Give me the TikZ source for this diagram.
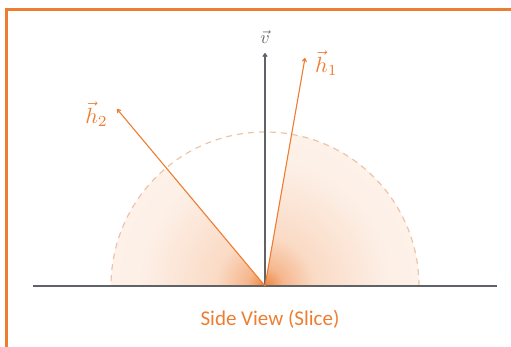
\documentclass[tikz,border=0pt]{standalone}
\usepackage{amsmath}
\usepackage{graphicx}
\usepackage{fontspec}
\usetikzlibrary{arrows.meta}
\newfontfamily\slicefont{Carlito}
\definecolor{sliceorange}{HTML}{ED7D31}
\definecolor{sliceink}{HTML}{5F6368}
\definecolor{slicedash}{HTML}{EDC4A8}
\newcommand{\biglab}[2]{\scalebox{#1}{$#2$}}
\pgfdeclareradialshading{lobeglow}{\pgfpoint{0bp}{0bp}}{%
  color(0bp)=(sliceorange!95); color(3bp)=(sliceorange!55);
  color(8bp)=(sliceorange!28); color(20bp)=(sliceorange!12);
  color(50bp)=(sliceorange!5)}

\begin{document}
\begin{tikzpicture}[
  x=1pt,
  y=1pt,
  frame/.style={sliceorange, line width=3pt},
  ground/.style={sliceink, line width=1.4pt},
  vecv/.style={sliceink, line width=1.2pt, -{To[length=4pt,width=5pt]}},
  vech/.style={sliceorange, line width=1.1pt, -{To[length=4pt,width=5pt]}},
  lobe/.style={slicedash, line width=1.2pt, dash pattern=on 6pt off 5pt},
  veclabel/.style={sliceorange, inner sep=2pt}
]
  \useasboundingbox (-265,-61) rectangle (246,286);

  % ---- frame, right and bottom edges run off the page -------------------
  \draw[frame] (-258.5,-80) -- (-258.5,276.5) -- (270,276.5);

  % ---- points ------------------------------------------------------------
  \coordinate (o) at (0,0);
  \coordinate (vtip) at (0,233);
  \coordinate (h1tip) at (40,228);
  \coordinate (h2tip) at (-148,177);
  \coordinate (gleft) at (-232,0);
  \coordinate (gright) at (232,0);

  % ---- shaded lobes, blank between the two half vectors ------------------
  \begin{scope}
    \clip (o) -- (154,0) arc[start angle=0, end angle=80.05, radius=154]
      -- cycle;
    \shade[shading=lobeglow] (o) circle (154);
  \end{scope}
  \begin{scope}
    \clip (o) -- (-154,0) arc[start angle=180, end angle=129.9, radius=154]
      -- cycle;
    \shade[shading=lobeglow] (o) circle (154);
  \end{scope}

  % ---- dashed half circle ------------------------------------------------
  \draw[lobe] (154,0) arc[start angle=0, end angle=180, radius=154];

  % ---- ground line and vectors -------------------------------------------
  \draw[ground] (gleft) -- (gright);
  \draw[vecv] (o) -- (vtip);
  \draw[vech] (o) -- (h1tip);
  \draw[vech] (o) -- (h2tip);

  % ---- labels ------------------------------------------------------------
  \node[sliceink] (vlab) at (0,249) {\biglab{1.8}{\vec{v}}};
  \node[veclabel, anchor=west] (h1lab) at (48,223) {\biglab{2.2}{\vec{h}_1}};
  \node[veclabel, anchor=east] (h2lab) at (-155,172) {\biglab{2.2}{\vec{h}_2}};
  \node[sliceorange, font=\slicefont\fontsize{21}{25}\selectfont]
    (caption) at (5,-33) {Side View (Slice)};
\end{tikzpicture}
\end{document}
